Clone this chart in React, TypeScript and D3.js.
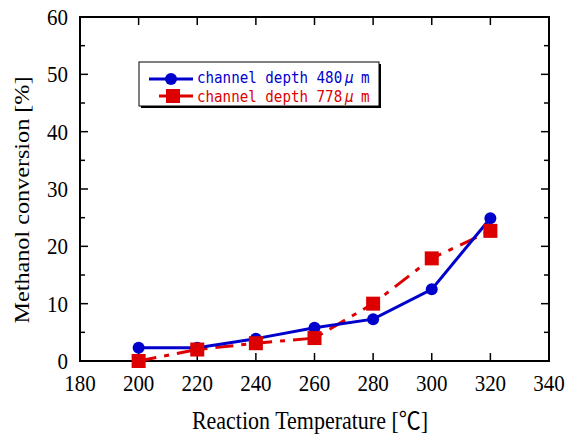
import React from "react";
import * as d3 from "d3";

const temps = [200, 220, 240, 260, 280, 300, 320];
const depth480 = [2.3, 2.3, 3.9, 5.8, 7.3, 12.5, 24.9];
const depth778 = [0, 2.0, 3.1, 4.0, 10.0, 17.9, 22.7];
const xTicks = [180, 200, 220, 240, 260, 280, 300, 320, 340];
const yTicks = [0, 10, 20, 30, 40, 50, 60];
const yMinor = [5, 15, 25, 35, 45, 55];
const seriesLabels = ["channel depth 480", "channel depth 778"];

const W = 566, H = 436;
const L = 80, R = 549, T = 17, B = 361;
const SY = 1.1;

export default function App() {
  const x = d3.scaleLinear().domain([180, 340]).range([L, R]);
  const y = d3.scaleLinear().domain([0, 60]).range([B, T]);
  const line = d3.line<number>().x((_, i) => x(temps[i])).y((d) => y(d));
  const serif = "'Liberation Serif', 'Times New Roman', serif";
  const mono = "'DejaVu Sans Mono', 'Liberation Mono', monospace";
  const blue = "#0000cc";
  const red = "#dd0000";
  const legendText = (label: string, yb: number, fill: string) => (
    <text transform={`translate(0,${yb}) scale(1,1.08)`} fill={fill} fontFamily={mono} fontSize={14.2}>
      <tspan x={197} y={0}>{label}</tspan>
      <tspan x={345} y={0} fontStyle="italic">{"\u03bc"}</tspan>
      <tspan x={361} y={0}>m</tspan>
    </text>
  );
  return (
    <svg width={W} height={H} style={{ position: "absolute", left: 0, top: 0 }}>
      <rect x={0} y={0} width={W} height={H} fill="#fff" />
      {xTicks.slice(1, -1).map((t) => (
        <g key={"xt" + t}>
          <line x1={x(t)} x2={x(t)} y1={B} y2={B - 8} stroke="#000" strokeWidth={1.5} />
          <line x1={x(t)} x2={x(t)} y1={T} y2={T + 8} stroke="#000" strokeWidth={1.5} />
        </g>
      ))}
      {yTicks.slice(1, -1).map((t) => (
        <g key={"yt" + t}>
          <line x1={L} x2={L + 8} y1={y(t)} y2={y(t)} stroke="#000" strokeWidth={1.5} />
          <line x1={R} x2={R - 8} y1={y(t)} y2={y(t)} stroke="#000" strokeWidth={1.5} />
        </g>
      ))}
      {yMinor.map((t) => (
        <g key={"ym" + t}>
          <line x1={L} x2={L + 5} y1={y(t)} y2={y(t)} stroke="#000" strokeWidth={1.5} />
          <line x1={R} x2={R - 5} y1={y(t)} y2={y(t)} stroke="#000" strokeWidth={1.5} />
        </g>
      ))}
      <rect x={L} y={T} width={R - L} height={B - T} fill="none" stroke="#000" strokeWidth={2} />
      {xTicks.map((t) => (
        <text key={"xl" + t} transform={`translate(${x(t)},391) scale(1,${SY})`} fontFamily={serif} fontSize={21} textAnchor="middle">
          {t}
        </text>
      ))}
      {yTicks.map((t) => (
        <text key={"yl" + t} transform={`translate(68,${y(t) + 8}) scale(1,${SY})`} fontFamily={serif} fontSize={21} textAnchor="end">
          {t}
        </text>
      ))}
      <text transform={`translate(310,429) scale(1,${SY})`} fontFamily={serif} fontSize={22} textAnchor="middle">
        Reaction Temperature [<tspan fontFamily="'Noto Sans CJK JP'">℃</tspan>]
      </text>
      <text
        transform={`translate(29,200) rotate(-90) scale(${SY},1)`}
        fontFamily={serif}
        fontSize={22}
        textAnchor="middle"
      >
        Methanol conversion [%]
      </text>
      <path d={line(depth778) || ""} fill="none" stroke={red} strokeWidth={3} strokeDasharray="18 8 5 8" />
      <path d={line(depth480) || ""} fill="none" stroke={blue} strokeWidth={3} />
      {depth480.map((v, i) => (
        <circle key={"b" + i} cx={x(temps[i])} cy={y(v)} r={6} fill={blue} />
      ))}
      {depth778.map((v, i) => (
        <rect key={"r" + i} x={x(temps[i]) - 7} y={y(v) - 7} width={14} height={14} fill={red} />
      ))}
      <rect x={141} y={64} width={240} height={44} fill="#000" />
      <rect x={139} y={62} width={240} height={44} fill="#fff" stroke="#000" strokeWidth={1} />
      <line x1={149} x2={193} y1={79} y2={79} stroke={blue} strokeWidth={3} />
      <circle cx={171} cy={79} r={6} fill={blue} />
      <line x1={159} x2={193} y1={96} y2={96} stroke={red} strokeWidth={3} />
      <rect x={166} y={89} width={14} height={14} fill={red} />
      {legendText(seriesLabels[0], 83, blue)}
      {legendText(seriesLabels[1], 102, red)}
    </svg>
  );
}
